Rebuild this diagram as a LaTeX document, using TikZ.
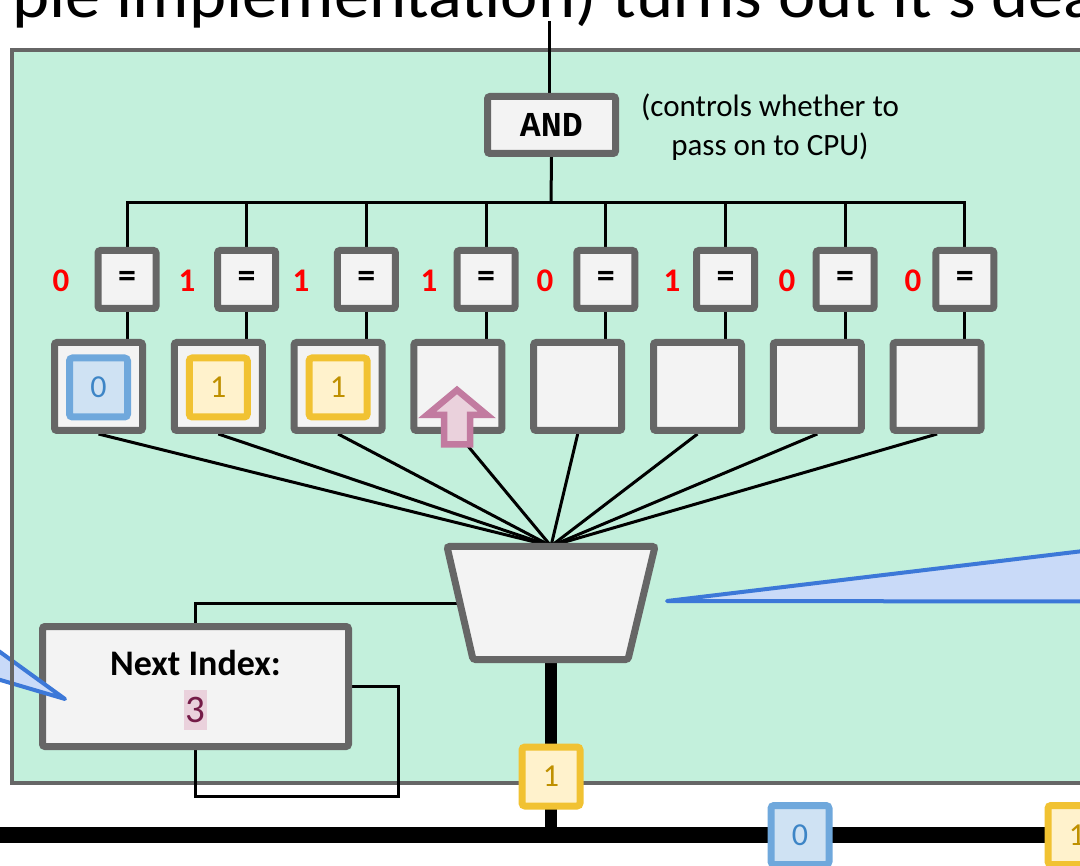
\documentclass[tikz,border=0pt]{standalone}
\usepackage{fontspec}
\setmainfont{Carlito}
\newfontfamily\andfont{Liberation Mono}
\definecolor{panelgreen}{HTML}{C3F0DC}
\definecolor{boxgray}{HTML}{666666}
\definecolor{boxfill}{HTML}{F3F3F3}
\definecolor{bluefill}{HTML}{CFE2F3}
\definecolor{blueline}{HTML}{6FA8DC}
\definecolor{bluetext}{HTML}{3D85C6}
\definecolor{yelfill}{HTML}{FFF2CC}
\definecolor{yelline}{HTML}{F1C232}
\definecolor{yeltext}{HTML}{BF9000}
\definecolor{pinkfill}{HTML}{EAD1DC}
\definecolor{pinkline}{HTML}{C27BA0}
\definecolor{calloutfill}{HTML}{C9DAF8}
\definecolor{calloutline}{HTML}{3C78D8}
\definecolor{idxtext}{HTML}{741B47}
\definecolor{bitred}{HTML}{FF0000}
\pgfdeclarelayer{bg}
\pgfdeclarelayer{wires}
\pgfsetlayers{bg,wires,main}
\begin{document}
\begin{tikzpicture}[x=1pt,y=-1pt,
  wire/.style={draw=black,line width=3},
  graybox/.style={draw=boxgray,fill=boxfill,line width=7,rounded corners=2.5,inner sep=0},
  eqbox/.style={graybox,minimum width=58,minimum height=58,font=\bfseries\fontsize{36}{36}\selectfont},
  regbox/.style={graybox,minimum width=88,minimum height=88},
  valbox/.style={line width=7,rounded corners=3,inner sep=0,minimum width=58,minimum height=59,font=\fontsize{32}{32}\selectfont},
  blueval/.style={valbox,draw=blueline,fill=bluefill,text=bluetext},
  yelval/.style={valbox,draw=yelline,fill=yelfill,text=yeltext},
  bit/.style={text=bitred,font=\bfseries\fontsize{33}{33}\selectfont,inner sep=0},
  callout/.style={draw=calloutline,fill=calloutfill,line width=4,line join=round}
]
\useasboundingbox (0,0) rectangle (1080,866);

\begin{pgfonlayer}{bg}
\fill[white] (0,0) rectangle (1080,866);
\draw[draw=boxgray, fill=panelgreen, line width=3.5] (12,50) rectangle (1100,783);
\end{pgfonlayer}

\node[anchor=base west, inner sep=0, font=\fontsize{66}{70}\selectfont] (title) at (12,18) {\scalebox{1.07}[1]{ple implementation) turns out it's dead}};

% nodes
\node[graybox, minimum width=128, minimum height=57, font=\andfont\bfseries\fontsize{35}{35}\selectfont] (and) at (551.5,125) {AND};
\node[align=center, font=\fontsize{31}{39}\selectfont, inner sep=0] (note) at (770,127) {(controls whether to\\pass on to CPU)};

\foreach \i in {1,...,8} {
  \node[eqbox] (eq\i) at ({127+119.7*(\i-1)},279.5) {=};
  \node[regbox] (reg\i) at ({98.5+119.8*(\i-1)},386.5) {};
}
\foreach \i/\b/\bx in {1/0/61, 2/1/187, 3/1/301, 4/1/429, 5/0/545, 6/1/672, 7/0/787, 8/0/913}
  \node[bit] (bit\i) at (\bx,281) {\b};

\coordinate (topin) at (549,21);
\coordinate (bus) at (551,203);
\coordinate (muxtop) at (551,546);
\coordinate (muxleft) at (460,603);
\coordinate (muxbot) at (551,659.5);
\coordinate (loopcorner) at (398,796);
\coordinate (busW) at (-5,835);
\coordinate (busE) at (1085,835);

\node[graybox, minimum width=306, minimum height=120] (ni) at (195.5,686.5) {};
\node[font=\bfseries\fontsize{36}{36}\selectfont, inner sep=0] (nilabel) at (195.5,663) {Next Index:};
\node[fill=pinkfill, text=idxtext, inner sep=0, minimum width=23, minimum height=40, font=\fontsize{39}{39}\selectfont] (nival) at (195.5,710) {3};

% wires
\begin{pgfonlayer}{wires}
\draw[wire] (topin) -- (topin |- and.north);
\draw[wire] (and.south) -- (bus);
\draw[wire] (eq1.north) |- (eq8.north |- bus) -- (eq8.north);
\foreach \i in {2,...,7} \draw[wire] (eq\i.north) -- (eq\i.north |- bus);
\foreach \i in {1,...,8} \draw[wire] (eq\i.south) -- (eq\i.south |- reg\i.north);
\foreach \i in {1,...,8} \draw[wire] (reg\i.south) -- (muxtop);
\draw[wire] (muxleft) -| (ni.north);
\draw[wire] (ni.east) -| (loopcorner) -| (ni.south);
\draw[line width=16] (busW) -- (busE);
\draw[line width=12] (muxbot) -- (muxbot |- busW);
\end{pgfonlayer}

% register contents
\node[blueval, yshift=-1] (val1) at (reg1) {0};
\node[yelval, yshift=-1] (val2) at (reg2) {1};
\node[yelval, yshift=-1] (val3) at (reg3) {1};
\draw[draw=pinkline, fill=pinkfill, line width=6.5, line join=miter]
  (457,390) -- (487,415) -- (470,415) -- (470,444.5) -- (444,444.5) -- (444,415) -- (427,415) -- cycle;

% mux
\draw[graybox] (447,546.5) -- (655,546.5) -- (628,659.5) -- (473,659.5) -- cycle;

% outputs
\node[yelval] (out1) at (551,776.5) {1};
\node[blueval] (q0) at (800,835) {0};
\node[yelval] (q1) at (1077,835) {1};

% callouts
\draw[callout] (667,601) -- (1100,549) -- (1100,601.5) -- cycle;
\draw[callout] (65,699) -- (-20,637.5) -- (-20,674) -- cycle;
\draw[boxgray, line width=3.5] (12,50) -- (12,783);
\end{tikzpicture}
\end{document}
